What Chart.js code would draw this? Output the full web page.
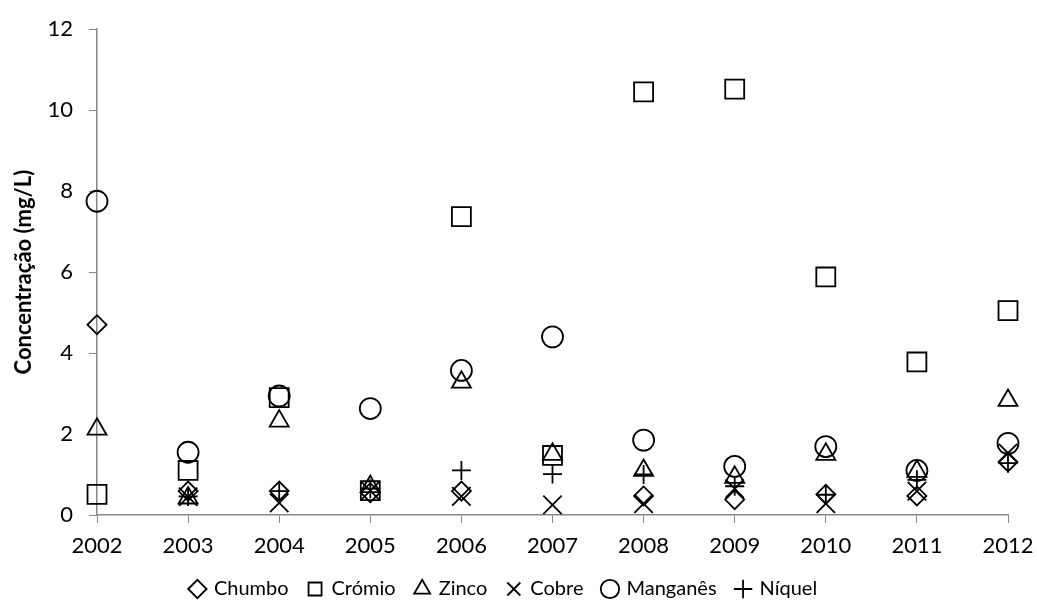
<!DOCTYPE html>
<html>
<head>
<meta charset="utf-8">
<script src="https://cdn.jsdelivr.net/npm/chart.js@4/dist/chart.umd.min.js"></script>
<style>
  html, body { margin: 0; padding: 0; background: #fff; }
  #wrap { width: 1037px; height: 613px; position: relative; }
</style>
</head>
<body>
<div id="wrap"><canvas id="chart"></canvas></div>
<script>
// Years on the x axis
const years = [2002, 2003, 2004, 2005, 2006, 2007, 2008, 2009, 2010, 2011, 2012];

// Concentrations (mg/L)
const chumbo   = [4.7, 0.59, 0.59, 0.55, 0.59, null, 0.47, 0.38, 0.51, 0.47, 1.31];
const cromio   = [0.51, 1.1, 2.9, 0.6, 7.37, 1.47, 10.45, 10.52, 5.88, 3.78, 5.05];
const zinco    = [2.12, 0.42, 2.32, 0.7, 3.28, 1.5, 1.1, 0.93, 1.5, 1.08, 2.83];
const cobre    = [null, 0.45, 0.3, 0.6, 0.46, 0.25, 0.28, 0.65, 0.28, 0.59, 1.53];
const manganes = [7.75, 1.55, 2.94, 2.63, 3.57, 4.4, 1.85, 1.2, 1.69, 1.1, 1.77];
const niquel   = [null, 0.46, 0.59, 0.65, 1.1, 1.01, 1.0, 0.71, 0.5, 0.87, 1.28];

const yTicks = [0, 2, 4, 6, 8, 10, 12];

const FONT = 'Lato, "Open Sans", sans-serif';

function points(values) {
    return years.map((yr, i) => ({ x: yr, y: values[i] }));
}

function series(label, values, style, radius) {
    return {
        label: label,
        data: points(values),
        showLine: false,
        clip: false,
        pointStyle: style,
        pointRadius: radius,
        pointHoverRadius: radius,
        pointBorderColor: '#000',
        pointBackgroundColor: 'rgba(0,0,0,0)',
        pointBorderWidth: 1.8,
        borderColor: '#000',
        backgroundColor: 'rgba(0,0,0,0)'
    };
}

const ctx = document.getElementById('chart');

new Chart(ctx, {
    type: 'scatter',
    data: {
        datasets: [
            series('Chumbo', chumbo, 'rectRot', 9.5),
            series('Crómio', cromio, 'rect', 13.4),
            series('Zinco', zinco, 'triangle', 11),
            series('Cobre', cobre, 'crossRot', 13),
            series('Manganês', manganes, 'circle', 10.5),
            series('Níquel', niquel, 'cross', 9.5)
        ]
    },
    options: {
        responsive: true,
        maintainAspectRatio: false,
        animation: false,
        layout: { padding: { top: 27, right: 29, left: 0, bottom: 4 } },
        plugins: {
            tooltip: { enabled: false },
            legend: {
                position: 'bottom',
                labels: {
                    usePointStyle: true,
                    color: '#000',
                    boxWidth: 13,
                    boxHeight: 13,
                    padding: 20,
                    font: { family: FONT, size: 20 }
                }
            }
        },
        scales: {
            x: {
                type: 'linear',
                min: 2002,
                max: 2012,
                afterFit: axis => {
                    axis.height = 44;
                    axis.paddingLeft = 0;
                    axis.paddingRight = 0;
                },
                ticks: {
                    stepSize: 1,
                    color: '#000',
                    padding: 10,
                    font: { family: FONT, size: 22 },
                    callback: v => String(v)
                },
                grid: { drawOnChartArea: false, color: '#888', tickLength: 8 },
                border: { color: '#888', width: 1.5 }
            },
            y: {
                min: 0,
                max: 12,
                afterFit: axis => { axis.width = 97; },
                afterBuildTicks: axis => { axis.ticks = yTicks.map(v => ({ value: v })); },
                ticks: {
                    color: '#000',
                    padding: 16,
                    font: { family: FONT, size: 22 }
                },
                title: {
                    display: true,
                    text: 'Concentração (mg/L)',
                    color: '#000',
                    padding: { top: 11, bottom: 0 },
                    font: { family: FONT, size: 22, weight: 'bold' }
                },
                grid: { drawOnChartArea: false, color: '#888', tickLength: 8 },
                border: { color: '#888', width: 1.5 }
            }
        }
    }
});
</script>
</body>
</html>
